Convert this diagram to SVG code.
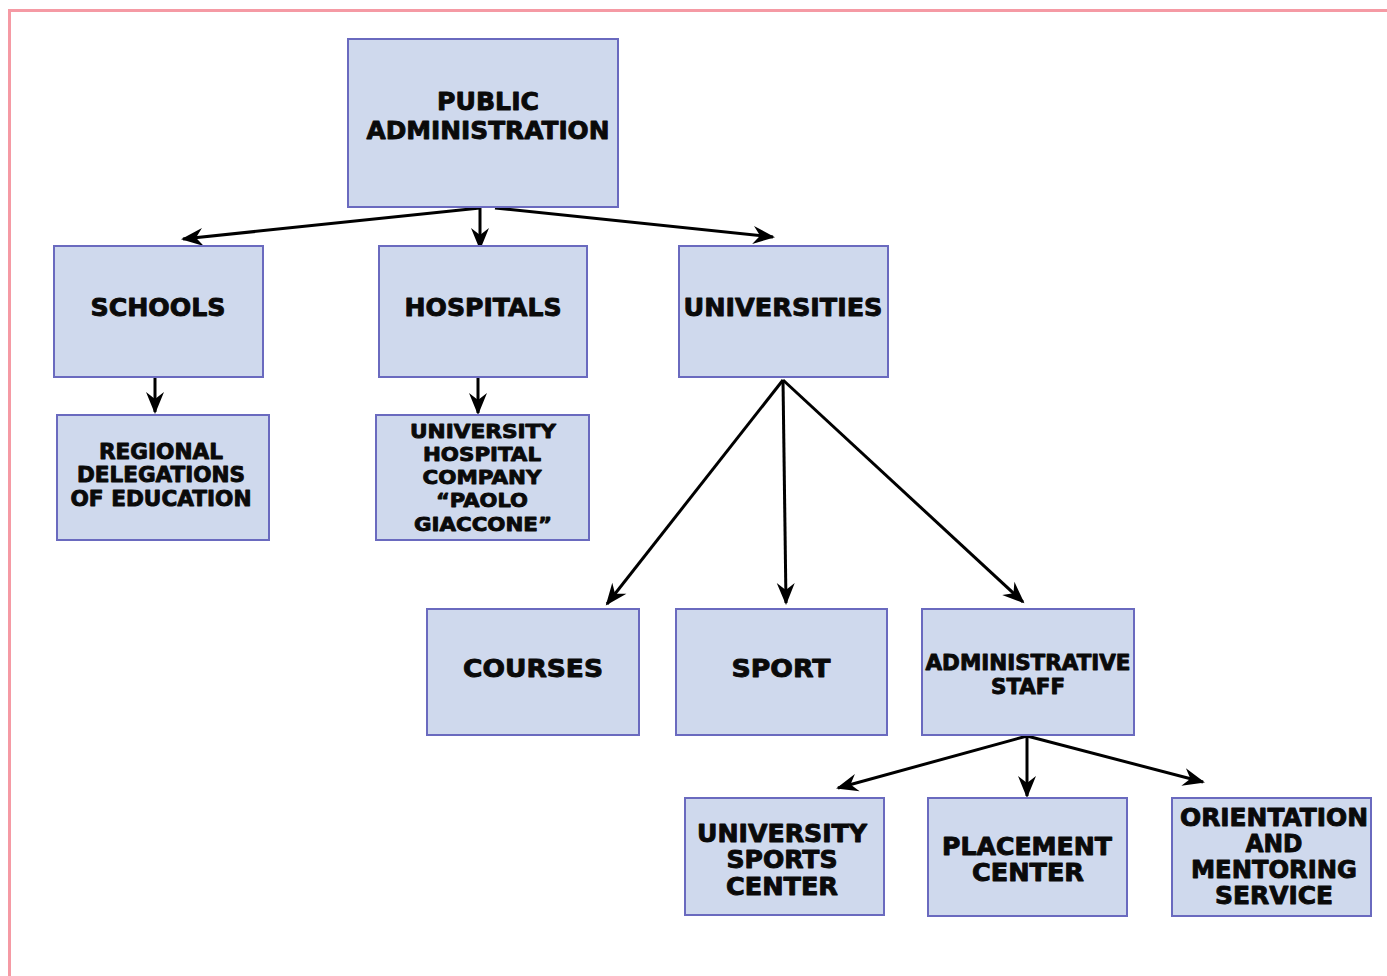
<svg xmlns="http://www.w3.org/2000/svg" width="1387" height="976" viewBox="0 0 1387 976">
  <style>
    .box { fill: #cfd9ed; stroke: #6a6abf; stroke-width: 2; }
    .lbl { font-family: "DejaVu Sans", "Liberation Sans", sans-serif; font-weight: bold; fill: #0a0a0a; text-anchor: middle; stroke: #0a0a0a; stroke-width: 0.9; stroke-linejoin: round; }
    .edge { stroke: #000000; stroke-width: 3; fill: none; marker-end: url(#head); }
    .frame { stroke: #f59aa4; stroke-width: 3; fill: none; }
  </style>
  <defs>
    <marker id="head" viewBox="0 0 22 18" refX="20" refY="9" markerWidth="22" markerHeight="18" markerUnits="userSpaceOnUse" orient="auto" overflow="visible">
      <path d="M0,0 L22,9 L0,18 L7,9 z" fill="#000000"/>
    </marker>
  </defs>
  <rect width="1387" height="976" fill="#ffffff"/>
  <!-- page frame: top and left rules -->
  <path class="frame" d="M9.5,976 V10.5 H1387"/>

  <!-- connectors -->
  <g id="connectors">
    <line class="edge" x1="480" y1="208" x2="183" y2="239"/>
    <line class="edge" x1="480" y1="208" x2="480" y2="248"/>
    <line class="edge" x1="495" y1="208" x2="773" y2="237"/>
    <line class="edge" x1="155" y1="378" x2="155" y2="412"/>
    <line class="edge" x1="478" y1="378" x2="478" y2="413"/>
    <line class="edge" x1="783" y1="380" x2="607" y2="604"/>
    <line class="edge" x1="783" y1="380" x2="786" y2="603"/>
    <line class="edge" x1="783" y1="380" x2="1023" y2="602"/>
    <line class="edge" x1="1027" y1="736" x2="838" y2="788"/>
    <line class="edge" x1="1027" y1="736" x2="1027" y2="796"/>
    <line class="edge" x1="1027" y1="736" x2="1203" y2="782"/>
  </g>

  <g id="public-administration">
    <rect class="box" x="348" y="39" width="270" height="168"/>
    <text class="lbl" font-size="25" x="488" y="110" textLength="102" lengthAdjust="spacingAndGlyphs">PUBLIC</text>
    <text class="lbl" font-size="25" x="488" y="139" textLength="243" lengthAdjust="spacingAndGlyphs">ADMINISTRATION</text>
  </g>

  <g id="schools">
    <rect class="box" x="54" y="246" width="209" height="131"/>
    <text class="lbl" font-size="25" x="158" y="316" textLength="135" lengthAdjust="spacingAndGlyphs">SCHOOLS</text>
  </g>

  <g id="hospitals">
    <rect class="box" x="379" y="246" width="208" height="131"/>
    <text class="lbl" font-size="25" x="483" y="316" textLength="157" lengthAdjust="spacingAndGlyphs">HOSPITALS</text>
  </g>

  <g id="universities">
    <rect class="box" x="679" y="246" width="209" height="131"/>
    <text class="lbl" font-size="25" x="783" y="316" textLength="199" lengthAdjust="spacingAndGlyphs">UNIVERSITIES</text>
  </g>

  <g id="regional-delegations">
    <rect class="box" x="57" y="415" width="212" height="125"/>
    <text class="lbl" font-size="21" x="161" y="459" textLength="124" lengthAdjust="spacingAndGlyphs">REGIONAL</text>
    <text class="lbl" font-size="21" x="161" y="482" textLength="168" lengthAdjust="spacingAndGlyphs">DELEGATIONS</text>
    <text class="lbl" font-size="21" x="161" y="506" textLength="181" lengthAdjust="spacingAndGlyphs">OF EDUCATION</text>
  </g>

  <g id="university-hospital">
    <rect class="box" x="376" y="415" width="213" height="125"/>
    <text class="lbl" font-size="20" x="483" y="438" textLength="146" lengthAdjust="spacingAndGlyphs">UNIVERSITY</text>
    <text class="lbl" font-size="20" x="482" y="461" textLength="118" lengthAdjust="spacingAndGlyphs">HOSPITAL</text>
    <text class="lbl" font-size="20" x="482" y="484" textLength="119" lengthAdjust="spacingAndGlyphs">COMPANY</text>
    <text class="lbl" font-size="20" x="482" y="507" textLength="92" lengthAdjust="spacingAndGlyphs">“PAOLO</text>
    <text class="lbl" font-size="20" x="483" y="531" textLength="138" lengthAdjust="spacingAndGlyphs">GIACCONE”</text>
  </g>

  <g id="courses">
    <rect class="box" x="427" y="609" width="212" height="126"/>
    <text class="lbl" font-size="25" x="533" y="677" textLength="140" lengthAdjust="spacingAndGlyphs">COURSES</text>
  </g>

  <g id="sport">
    <rect class="box" x="676" y="609" width="211" height="126"/>
    <text class="lbl" font-size="25" x="781" y="677" textLength="99" lengthAdjust="spacingAndGlyphs">SPORT</text>
  </g>

  <g id="administrative-staff">
    <rect class="box" x="922" y="609" width="212" height="126"/>
    <text class="lbl" font-size="21" x="1028" y="670" textLength="205" lengthAdjust="spacingAndGlyphs">ADMINISTRATIVE</text>
    <text class="lbl" font-size="21" x="1028" y="694" textLength="74" lengthAdjust="spacingAndGlyphs">STAFF</text>
  </g>

  <g id="university-sports-center">
    <rect class="box" x="685" y="798" width="199" height="117"/>
    <text class="lbl" font-size="24" x="782" y="842" textLength="170" lengthAdjust="spacingAndGlyphs">UNIVERSITY</text>
    <text class="lbl" font-size="24" x="782" y="868" textLength="111" lengthAdjust="spacingAndGlyphs">SPORTS</text>
    <text class="lbl" font-size="24" x="782" y="895" textLength="112" lengthAdjust="spacingAndGlyphs">CENTER</text>
  </g>

  <g id="placement-center">
    <rect class="box" x="928" y="798" width="199" height="118"/>
    <text class="lbl" font-size="24" x="1027" y="855" textLength="170" lengthAdjust="spacingAndGlyphs">PLACEMENT</text>
    <text class="lbl" font-size="24" x="1028" y="881" textLength="112" lengthAdjust="spacingAndGlyphs">CENTER</text>
  </g>

  <g id="orientation-mentoring">
    <rect class="box" x="1172" y="798" width="199" height="118"/>
    <text class="lbl" font-size="24" x="1274" y="826" textLength="188" lengthAdjust="spacingAndGlyphs">ORIENTATION</text>
    <text class="lbl" font-size="24" x="1274" y="852" textLength="57" lengthAdjust="spacingAndGlyphs">AND</text>
    <text class="lbl" font-size="24" x="1274" y="878" textLength="166" lengthAdjust="spacingAndGlyphs">MENTORING</text>
    <text class="lbl" font-size="24" x="1274" y="904" textLength="118" lengthAdjust="spacingAndGlyphs">SERVICE</text>
  </g>
</svg>
